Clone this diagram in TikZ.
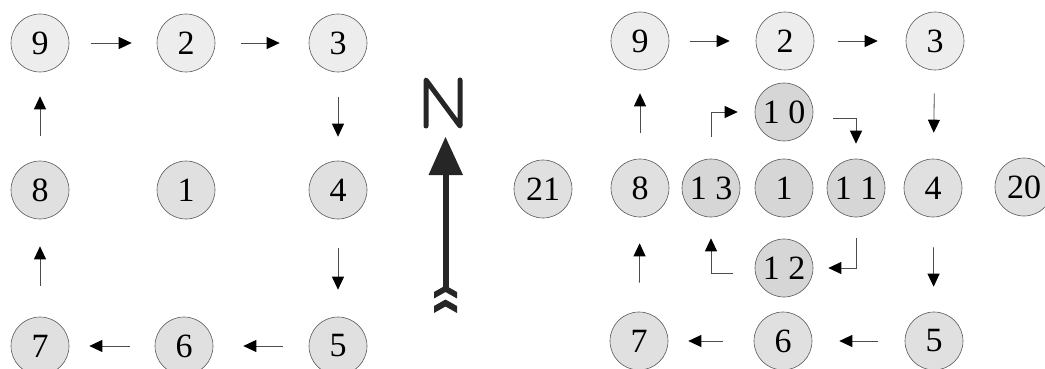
\documentclass[tikz,border=0pt]{standalone}
\usepackage{fontspec}
\setmainfont{Liberation Serif}
\usetikzlibrary{arrows.meta}

\tikzset{
  cell/.style={circle, draw=black!65, line width=0.6pt, fill=black!12,
    minimum size=58pt, inner sep=0pt, font=\fontsize{34}{34}\selectfont},
  celllight/.style={cell, fill=black!7},
  celldark/.style={cell, fill=black!16},
  flow/.style={draw=black!70, line width=0.8pt,
    -{Triangle[length=13pt,width=12pt,color=black,fill=black]}},
  compass/.style={black!85, line cap=round, line join=round}
}

\begin{document}
\begin{tikzpicture}[x=1pt,y=-1pt]
\useasboundingbox (0,0) rectangle (1045,369);
\clip (0,0) rectangle (1045,369);

% ---------- left grid: outer ring around cell 1 ----------
\node[celllight] (a9) at (40,43) {9};
\node[celllight] (a2) at (186,43) {2};
\node[celllight] (a3) at (338,43) {3};
\node[cell] (a8) at (40,190) {8};
\node[cell] (a1) at (186,190) {1};
\node[cell] (a4) at (338,190) {4};
\node[cell] (a7) at (40,346) {7};
\node[cell] (a6) at (184,346) {6};
\node[cell] (a5) at (338,346) {5};

\draw[flow, shorten <=22pt, shorten >=25pt] (a9) -- (a2);
\draw[flow, shorten <=26pt, shorten >=29pt] (a2) -- (a3);
\draw[flow, shorten <=25pt, shorten >=24pt] (a3) -- (a4);
\draw[flow, shorten <=29pt, shorten >=27pt] (a4) -- (a5);
\draw[flow, shorten <=26pt, shorten >=30pt] (a5) -- (a6);
\draw[flow, shorten <=25pt, shorten >=20pt] (a6) -- (a7);
\draw[flow, shorten <=31pt, shorten >=27pt] (a7) -- (a8);
\draw[flow, shorten <=25pt, shorten >=24pt] (a8) -- (a9);

% ---------- north arrow ----------
\draw[compass, line width=5pt] (426,126) -- (426,80) -- (460,126) -- (460,80);
\fill[compass] (445.5,137) -- (463,175) -- (428.5,175) -- cycle;
\fill[compass] (443,174) rectangle (448.5,289);
\fill[compass] (434,292) -- (445.5,285.5) -- (457,292) -- (457,298.5)
  -- (445.5,292) -- (434,298.5) -- cycle;
\fill[compass] (434,306) -- (445.5,299.5) -- (457,306) -- (457,313)
  -- (445.5,306.5) -- (434,313) -- cycle;

% ---------- right grid: outer ring plus inner ring ----------
\node[celllight] (b9) at (640,41) {9};
\node[celllight] (b2) at (785,41) {2};
\node[celllight] (b3) at (935,41) {3};
\node[cell] (b21) at (543,189) {21};
\node[cell] (b8) at (640,188) {8};
\node[celldark] (b13) at (711,188) {1 3};
\node[celldark] (b1) at (784,188) {1};
\node[celldark] (b11) at (856,188) {1 1};
\node[cell] (b4) at (933,188) {4};
\node[cell] (b20) at (1024,187) {20};
\node[celldark] (b10) at (784,112) {1 0};
\node[celldark] (b12) at (784,268) {1 2};
\node[cell] (b7) at (639,341) {7};
\node[cell] (b6) at (783,341) {6};
\node[cell] (b5) at (934,341) {5};

\draw[flow, shorten <=21pt, shorten >=26pt] (b9) -- (b2);
\draw[flow, shorten <=24pt, shorten >=28pt] (b2) -- (b3);
\draw[flow, shorten <=23pt, shorten >=26pt] (b3) -- (b4);
\draw[flow, shorten <=30pt, shorten >=25pt] (b4) -- (b5);
\draw[flow, shorten <=27pt, shorten >=27pt] (b5) -- (b6);
\draw[flow, shorten <=31pt, shorten >=20pt] (b6) -- (b7);
\draw[flow, shorten <=29pt, shorten >=26pt] (b7) -- (b8);
\draw[flow, shorten <=26pt, shorten >=23pt] (b8) -- (b9);

% inner ring with bent connectors
\draw[flow] ([yshift=22pt]b13.north) |- ([xshift=-17pt]b10.west);
\draw[flow] ([xshift=20pt,yshift=-6pt]b10.east) -| ([yshift=15pt]b11.north);
\draw[flow] ([yshift=-21pt]b11.south) |- ([xshift=15pt]b12.east);
\draw[flow] ([xshift=-22pt,yshift=-5pt]b12.west) -| ([yshift=-21pt]b13.south);
\end{tikzpicture}
\end{document}
